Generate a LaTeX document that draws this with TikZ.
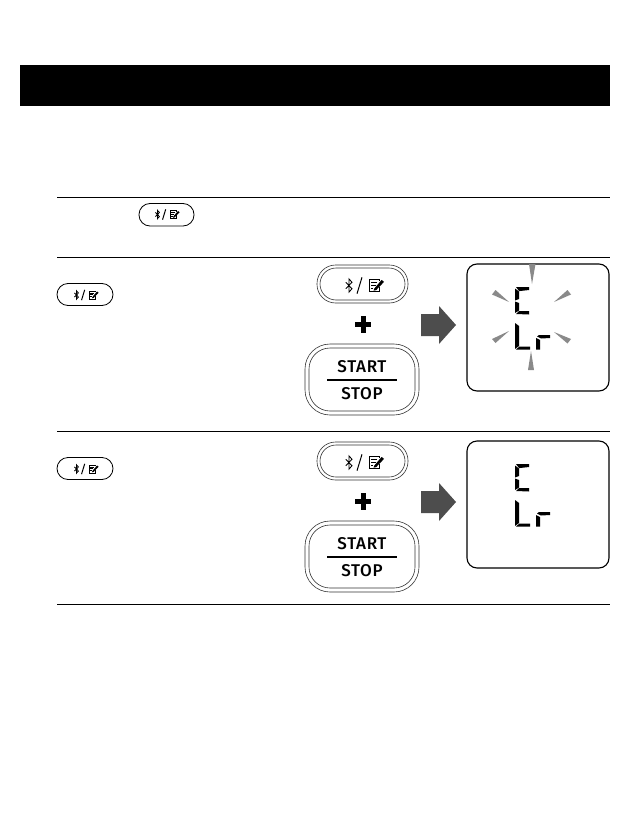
\documentclass[tikz,border=0pt]{standalone}
\usepackage{fontspec}
\setmainfont{Fira Sans Medium}[LetterSpace=4]
\definecolor{arrowgrey}{HTML}{4D4D4D}
\definecolor{raygrey}{HTML}{8A8A8A}
\definecolor{outlinegrey}{HTML}{333333}
\tikzset{
  rulel/.style={line width=1pt,black},
  bticon/.pic={
    % bluetooth rune
    \draw[line width=0.85pt,line join=miter] (-3.2,-3.2) -- (3,3.2) -- (0,6.6) -- (0,-6.6) -- (3,-3.2) -- (-3.2,3.2);
    % slash
    \draw[line width=1pt] (8,8.2) -- (13,-8.2);
    % memo
    \draw[line width=1pt] (30.6,-4.2) -- (30.6,-6.2) -- (20,-6.2) -- (20,6.4) -- (30.6,6.4) -- (30.6,1.5);
    \draw[line width=0.9pt] (22,-3.2) -- (28,-3.2) (22,-0.2) -- (26.5,-0.2) (22,2.8) -- (24,2.8);
    \fill (25.2,3.2) -- (32.6,-5.6) -- (35,-3.6) -- (27.2,4.6) -- (24.6,5.2) -- cycle;
  },
  seg/.style={fill=black,draw=none},
  ray/.style={fill=raygrey,draw=none}
}
\newcommand{\panelparts}[1]{%
  \begin{scope}[yshift=-#1pt]
    % large bluetooth/memo button
    \draw[outlinegrey,line width=0.6pt,rounded corners=18.5pt] (317,265) rectangle (408,303);
    \draw[outlinegrey,line width=0.6pt,rounded corners=16pt] (320,268) rectangle (405,300);
    \pic at (349,285.5) {bticon};
    % plus
    \fill (355,322) rectangle (371,327);
    \fill (360.5,316) rectangle (365.5,333);
    % start/stop button
    \draw[outlinegrey,line width=0.6pt,rounded corners=25pt] (305,344) rectangle (419,415);
    \draw[outlinegrey,line width=0.6pt,rounded corners=21pt] (309,348) rectangle (415,411);
    \draw[line width=1.3pt] (327,380) -- (397,380);
    \node[font=\fontsize{17}{19}\selectfont,inner sep=0pt] (startlabel#1) at (362,367) {START};
    \node[font=\fontsize{17}{19}\selectfont,inner sep=0pt] (stoplabel#1) at (362,394) {STOP};
    % block arrow
    \fill[arrowgrey] (421,314) -- (439,314) -- (439,306) -- (456,325) -- (439,344) -- (439,336) -- (421,336) -- cycle;
    % display
    \draw[line width=1.1pt,rounded corners=10pt] (467,264) rectangle (609,391);
    % segments C
    \fill[seg] (516,287) -- (529,287) -- (529,290) -- (520,291) -- (519,291) -- cycle;
    \fill[seg] (515,288.5) -- (519,291.5) -- (519,299) -- (515,300.5) -- cycle;
    \fill[seg] (515,301.5) -- (519,303) -- (519,310.5) -- (515,313) -- cycle;
    \fill[seg] (516,314) -- (519,311) -- (529,311) -- (529,314.5) -- cycle;
    % segments L
    \fill[seg] (515,323) -- (519,326) -- (519,346) -- (515,349) -- cycle;
    \fill[seg] (516,349.5) -- (519.5,346.5) -- (530,346.5) -- (530,349.5) -- cycle;
    % segments r
    \fill[seg] (536,349.5) -- (536,338) -- (540,340) -- (540,349.5) -- cycle;
    \fill[seg] (537,336.5) -- (539,335) -- (550,335) -- (550,338) -- (541,338.5) -- cycle;
  \end{scope}}
\begin{document}
\begin{tikzpicture}[x=1pt,y=-1pt]
  \useasboundingbox (0,0) rectangle (630,824);
  \fill[white] (0,0) rectangle (630,824);
  % header bar
  \fill[black] (20,65) rectangle (610,106);
  % rules
  \draw[rulel] (57,197.5) -- (610,197.5);
  \draw[rulel] (57,257.5) -- (610,257.5);
  \draw[rulel] (57,431.5) -- (610,431.5);
  \draw[rulel] (57,604.5) -- (610,604.5);
  % small inline buttons
  \draw[line width=0.8pt,rounded corners=11pt] (139,203.5) rectangle (194,226);
  \pic[scale=0.63,transform shape] at (157.5,214.5) {bticon};
  \draw[line width=0.8pt,rounded corners=11pt] (57,283.5) rectangle (113,305.5);
  \pic[scale=0.63,transform shape] at (76.5,295) {bticon};
  \draw[line width=0.8pt,rounded corners=11pt] (57,457.5) rectangle (113,479.5);
  \pic[scale=0.63,transform shape] at (76.5,469) {bticon};
  % panels
  \panelparts{0}
  \panelparts{177}
  % rays on the first display
  \fill[ray] (529,264) -- (535.5,264) -- (532,284) -- cycle;
  \fill[ray] (528,370) -- (534,370) -- (531,351) -- cycle;
  \fill[ray] (492,294.5) -- (495.5,290) -- (509,302) -- cycle;
  \fill[ray] (571,294.5) -- (567.5,290) -- (554,302) -- cycle;
  \fill[ray] (492,339) -- (495.5,343) -- (509,331) -- cycle;
  \fill[ray] (571,339) -- (567.5,343.5) -- (554,332) -- cycle;
\end{tikzpicture}
\end{document}
